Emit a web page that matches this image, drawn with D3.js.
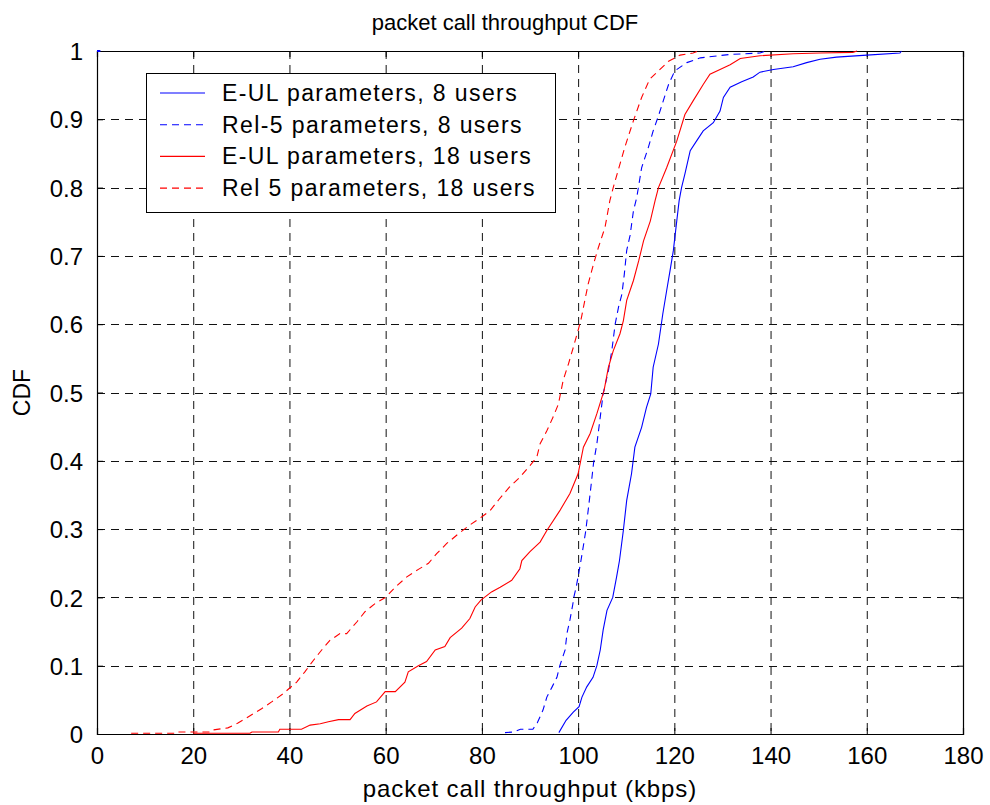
<!DOCTYPE html>
<html><head><meta charset="utf-8">
<script src="https://cdn.jsdelivr.net/npm/d3@7"></script>
<style>
body{margin:0;background:#fff}
text{font-family:Arial,"Liberation Sans",Helvetica,sans-serif;fill:#000}
</style>
</head><body>
<svg id="chart" width="990" height="805"></svg>
<script>
// ---------- data ----------
const xTicks = [0,20,40,60,80,100,120,140,160,180];
const yTicks = [0,0.1,0.2,0.3,0.4,0.5,0.6,0.7,0.8,0.9,1];
const yTickLabels = ["0","0.1","0.2","0.3","0.4","0.5","0.6","0.7","0.8","0.9","1"];
const titleText = "packet call throughput CDF";
const xLabelText = "packet call throughput (kbps)";
const yLabelText = "CDF";
const seriesNames = ["E-UL parameters, 8 users","Rel-5 parameters, 8 users","E-UL parameters, 18 users","Rel 5 parameters, 18 users"];

// [throughput kbps, CDF]
const eul8 = [[96,0.002],[97.5,0.02],[99,0.032],[100.2,0.04],[100.8,0.054],[101.8,0.069],[103.1,0.083],[103.9,0.1],[104.6,0.123],[105.2,0.152],[106,0.181],[107.2,0.2],[108,0.23],[108.6,0.254],[109.4,0.298],[110.1,0.342],[111.1,0.381],[111.8,0.42],[113.2,0.449],[114.2,0.478],[115.1,0.498],[115.6,0.537],[116.7,0.571],[117.6,0.615],[118.4,0.649],[119.1,0.678],[119.8,0.708],[120.5,0.751],[121,0.781],[121.5,0.8],[122.2,0.82],[123.3,0.854],[124.6,0.868],[126,0.883],[128.1,0.895],[129.5,0.912],[130.2,0.932],[131.6,0.947],[134,0.955],[136.4,0.962],[137.8,0.969],[140.6,0.973],[144.7,0.977],[147.5,0.983],[150.3,0.988],[153.7,0.991],[160,0.994],[166.9,0.997],[167.2,1]];
const rel5_8 = [[84.8,0.002],[86.7,0.003],[88,0.007],[90.6,0.007],[91.5,0.016],[92.7,0.035],[93.5,0.054],[94.6,0.069],[95.6,0.083],[96.2,0.1],[97.3,0.123],[97.7,0.148],[98.3,0.167],[98.9,0.19],[99.1,0.2],[99.6,0.215],[100.5,0.25],[101.2,0.28],[101.6,0.298],[102.5,0.352],[103.2,0.396],[103.9,0.425],[104.6,0.464],[105.2,0.498],[106.3,0.532],[107,0.561],[107.7,0.6],[108.4,0.625],[109.1,0.644],[109.6,0.673],[110.1,0.708],[110.8,0.73],[111.5,0.766],[112.2,0.786],[113.2,0.829],[114.6,0.859],[115.6,0.883],[116.7,0.905],[117.7,0.927],[118.8,0.951],[120.1,0.971],[122.6,0.983],[125.4,0.99],[131.6,0.995],[137.8,0.997],[139,1]];
const eul18 = [[20,0.001],[31.8,0.001],[32.2,0.003],[37.7,0.003],[38,0.007],[42.5,0.007],[44.3,0.013],[46.4,0.015],[48.1,0.018],[50.2,0.021],[52.6,0.021],[53.6,0.03],[56.1,0.041],[58.1,0.047],[59.9,0.062],[62,0.062],[64,0.076],[64.7,0.091],[66.8,0.1],[68.5,0.106],[70.3,0.123],[72.3,0.128],[73.4,0.141],[75.8,0.155],[77.5,0.169],[78.6,0.186],[79.8,0.196],[82,0.208],[83.8,0.215],[86.2,0.225],[87.9,0.242],[88.3,0.254],[90,0.267],[92.1,0.281],[93.5,0.298],[96.2,0.327],[98.3,0.352],[100,0.381],[101.1,0.42],[102.5,0.44],[103.9,0.469],[105.4,0.503],[106.3,0.537],[107.3,0.561],[108.7,0.586],[109.4,0.605],[110.1,0.635],[111.5,0.664],[112.6,0.693],[113.6,0.722],[115,0.751],[116,0.781],[116.7,0.8],[118.4,0.829],[120.5,0.868],[122.2,0.907],[123.9,0.927],[126,0.951],[127.4,0.966],[129.5,0.973],[131.6,0.98],[133.7,0.989],[137.8,0.993],[144.7,0.996],[150.3,0.997],[157.1,0.998],[158,1]];
const rel5_18 = [[7.1,0.001],[16.6,0.001],[16.8,0.003],[23.8,0.003],[24.2,0.006],[27.2,0.009],[29.3,0.016],[31.4,0.025],[34.2,0.037],[36.3,0.047],[38.7,0.059],[40,0.067],[41.5,0.076],[43.2,0.091],[45,0.108],[46.7,0.123],[48.4,0.137],[50.5,0.147],[51.9,0.147],[54,0.164],[55.7,0.179],[57.8,0.191],[60,0.2],[62,0.215],[64.4,0.23],[66.8,0.241],[68.9,0.25],[70.6,0.264],[72.7,0.279],[75.1,0.293],[77.5,0.306],[80,0.318],[81.7,0.327],[83.5,0.343],[85.8,0.362],[87.9,0.376],[90,0.393],[91.4,0.405],[92.1,0.425],[93.5,0.444],[94.8,0.464],[95.9,0.483],[96.9,0.518],[98,0.542],[99,0.566],[100,0.591],[100.7,0.61],[101.4,0.635],[102.1,0.659],[103.2,0.688],[104.2,0.712],[105.6,0.742],[106.6,0.781],[107.3,0.8],[109.7,0.859],[111.5,0.898],[113.2,0.932],[114.9,0.959],[116.7,0.971],[118.8,0.985],[121.2,0.994],[123.9,0.997],[125,1]];
const strayPoint = [[0,1],[0.7,1]];

const seriesColors = ["#0000ff","#0000ff","#ff0000","#ff0000"];
const seriesDash = [null,"7,5",null,"7,5"];
const seriesData = [eul8, rel5_8, eul18, rel5_18];

// ---------- layout ----------
const W = 990, H = 805;
const L = 97, R = 963, T = 51, B = 734;
const svg = d3.select("#chart");
svg.append("rect").attr("width",W).attr("height",H).attr("fill","#fff");

const x = d3.scaleLinear().domain([0,180]).range([L,R]);
const y = d3.scaleLinear().domain([0,1]).range([B,T]);

// grid
const grid = svg.append("g");
grid.selectAll(".gx").data(xTicks.slice(1,-1)).enter().append("line")
  .attr("x1",d=>x(d)+0.5).attr("x2",d=>x(d)+0.5).attr("y1",T).attr("y2",B)
  .attr("stroke","#111").attr("stroke-width",1).attr("stroke-dasharray","8,6");
grid.selectAll(".gy").data(yTicks.slice(1,-1)).enter().append("line")
  .attr("y1",d=>Math.round(y(d))+0.5).attr("y2",d=>Math.round(y(d))+0.5).attr("x1",L).attr("x2",R)
  .attr("stroke","#111").attr("stroke-width",1).attr("stroke-dasharray","8,6");

// axes (ticks inward)
const tk = 6;
const axB = svg.append("g").attr("transform",`translate(0,${B})`)
  .call(d3.axisBottom(x).tickValues(xTicks).tickSize(-tk).tickPadding(tk+8).tickFormat(d3.format("d")));
const axT = svg.append("g").attr("transform",`translate(0,${T})`)
  .call(d3.axisTop(x).tickValues(xTicks).tickSize(-tk).tickFormat(""));
const axL = svg.append("g").attr("transform",`translate(${L},0)`)
  .call(d3.axisLeft(y).tickValues(yTicks).tickSize(-tk).tickPadding(tk+8).tickFormat((d,i)=>yTickLabels[i]));
const axR = svg.append("g").attr("transform",`translate(${R},0)`)
  .call(d3.axisRight(y).tickValues(yTicks).tickSize(-tk).tickFormat(""));
[axB,axT,axL,axR].forEach(a=>{
  a.selectAll("path").attr("stroke","#000").attr("stroke-width",1.2);
  a.selectAll("line").attr("stroke","#000");
  a.selectAll("text").style("font-size","24px").attr("fill","#000");
});
axB.selectAll("text").attr("dy","0.68em");
axL.selectAll("text").attr("dy","0.36em");

// series
const line = d3.line().x(d=>x(d[0])).y(d=>y(d[1]));
const plot = svg.append("g");
seriesData.forEach((s,i)=>{
  plot.append("path").datum(s).attr("d",line).attr("fill","none")
    .attr("stroke",seriesColors[i]).attr("stroke-width",1.1)
    .attr("stroke-dasharray",seriesDash[i]);
});
plot.append("path").datum(strayPoint).attr("d",line).attr("fill","none")
  .attr("stroke","#0000ff").attr("stroke-width",2);

// legend
const lg = svg.append("g");
lg.append("rect").attr("x",146.5).attr("y",73.5).attr("width",409).attr("height",139)
  .attr("fill","#fff").attr("stroke","#000").attr("stroke-width",1);
seriesNames.forEach((n,i)=>{
  const cy = 93 + i*31.7;
  lg.append("line").attr("x1",160).attr("x2",205).attr("y1",cy).attr("y2",cy)
    .attr("stroke",seriesColors[i]).attr("stroke-width",1.1).attr("stroke-dasharray",seriesDash[i]);
  lg.append("text").attr("x",222).attr("y",cy+8).text(n)
    .style("font-size","23px").style("letter-spacing","1.4px");
});

// titles
svg.append("text").attr("x",505).attr("y",30).attr("text-anchor","middle")
  .style("font-size","22px").text(titleText);
svg.append("text").attr("x",(L+R)/2).attr("y",797).attr("text-anchor","middle")
  .style("font-size","24px").style("letter-spacing","0.9px").text(xLabelText);
svg.append("text").attr("transform",`translate(30,${(T+B)/2}) rotate(-90)`).attr("text-anchor","middle")
  .style("font-size","23px").text(yLabelText);
</script>
</body></html>
